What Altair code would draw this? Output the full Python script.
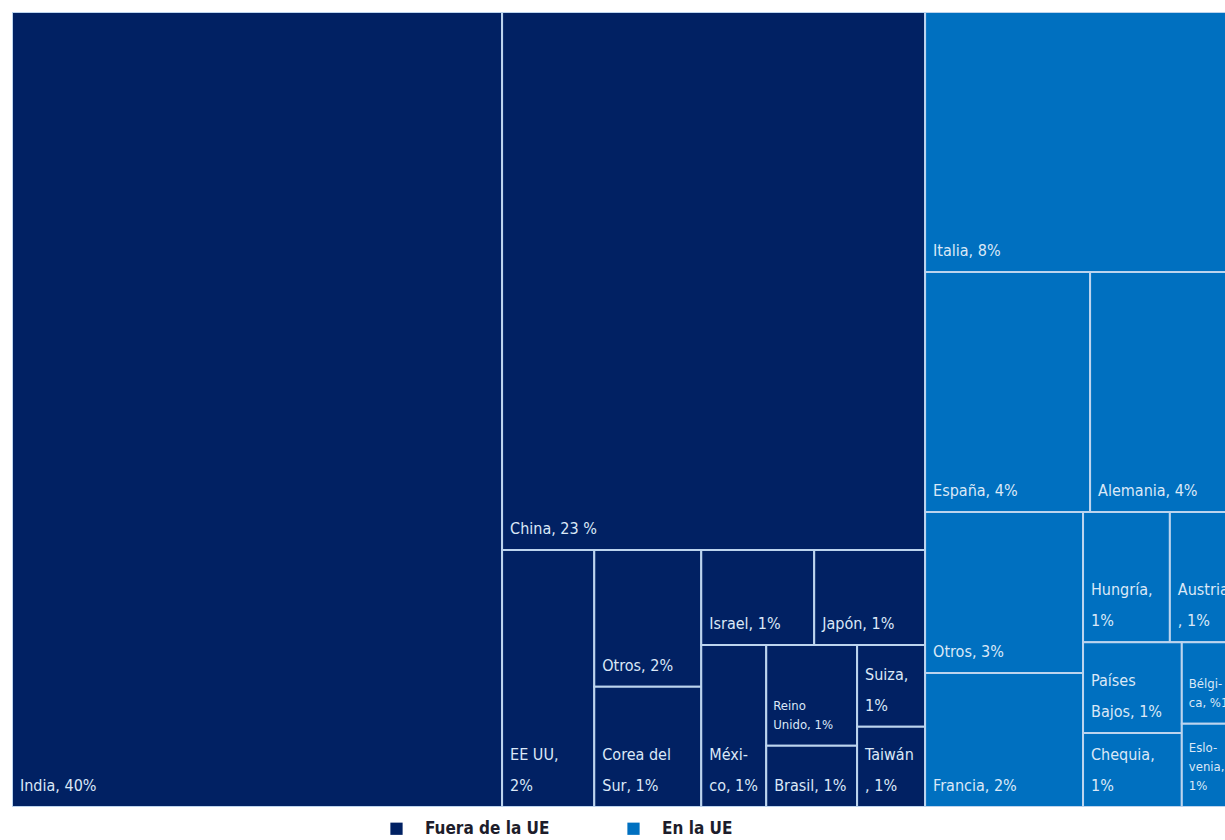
import altair as alt
import pandas as pd

# ---- data -------------------------------------------------------------
ids = ["India", "China", "EE UU", "Otros_f", "Corea", "Israel", "Japon", "Mexico",
       "Reino", "Brasil", "Suiza", "Taiwan",
       "Italia", "Espana", "Alemania", "Otros_ue", "Francia", "Hungria", "Austria",
       "PaisesBajos", "Chequia", "Belgica", "Eslovenia"]
values = [39.97, 23.35, 2.43, 1.50, 1.32, 1.10, 1.08, 1.08,
          0.94, 0.57, 0.57, 0.56,
          8.35, 4.06, 3.64, 2.61, 2.17, 1.16, 0.91,
          0.92, 0.75, 0.47, 0.48]
groups = ["Fuera de la UE"] * 12 + ["En la UE"] * 11
labels = ["India, 40%", "China, 23 %", "EE UU,\n2%", "Otros, 2%", "Corea del\nSur, 1%",
          "Israel, 1%", "Japón, 1%", "Méxi-\nco, 1%", "Reino\nUnido, 1%", "Brasil, 1%",
          "Suiza,\n1%", "Taiwán\n, 1%",
          "Italia, 8%", "España, 4%", "Alemania, 4%", "Otros, 3%", "Francia, 2%",
          "Hungría,\n1%", "Austria\n, 1%", "Países\nBajos, 1%", "Chequia,\n1%",
          "Bélgi-\nca, %1", "Eslo-\nvenia,\n1%"]
small_labels = ["Reino", "Belgica", "Eslovenia"]

# nesting of the treemap (h = side by side, v = stacked)
tree = ("h", [
    ("h", ["India",
           ("v", ["China",
                  ("h", ["EE UU",
                         ("v", ["Otros_f", "Corea"]),
                         ("v", [("h", ["Israel", "Japon"]),
                                ("h", ["Mexico",
                                       ("v", ["Reino", "Brasil"]),
                                       ("v", ["Suiza", "Taiwan"])])])])])]),
    ("v", ["Italia",
           ("h", ["Espana", "Alemania"]),
           ("h", [("v", ["Otros_ue", "Francia"]),
                  ("v", [("h", ["Hungria", "Austria"]),
                         ("h", [("v", ["PaisesBajos", "Chequia"]),
                                ("v", ["Belgica", "Eslovenia"])])])])]),
])

# ---- layout ------------------------------------------------------------
FULL_W, FULL_H = 1226.0, 795.0   # full treemap (the right edge is cropped)
VIS_W = 1213                      # visible part
val = dict(zip(ids, values))


def total(node):
    if isinstance(node, str):
        return val[node]
    return sum(total(c) for c in node[1])


def place(node, x0, y0, x1, y1, out):
    if isinstance(node, str):
        out[node] = (x0, y0, x1, y1)
        return
    d, kids = node
    t = total(node)
    pos = x0 if d == "h" else y0
    for k in kids:
        frac = total(k) / t
        if d == "h":
            w = (x1 - x0) * frac
            place(k, pos, y0, pos + w, y1, out)
            pos += w
        else:
            h = (y1 - y0) * frac
            place(k, x0, pos, x1, pos + h, out)
            pos += h


rects = {}
place(tree, 0.0, 0.0, FULL_W, FULL_H, rects)

df = pd.DataFrame({
    "id": ids, "value": values, "grupo": groups, "label": labels,
    "x0": [rects[i][0] for i in ids], "y0": [rects[i][1] for i in ids],
    "x1": [rects[i][2] for i in ids], "y1": [rects[i][3] for i in ids],
    "nlines": [lab.count("\n") + 1 for lab in labels],
})

xs = alt.Scale(domain=[0, VIS_W], nice=False, zero=False)
ys = alt.Scale(domain=[0, FULL_H], nice=False, zero=False, reverse=True)

FONT = "Liberation Sans Narrow, DejaVu Sans Condensed, DejaVu Sans, sans-serif"
LH_MAIN, LH_SMALL = 31, 19

base = alt.Chart(df)

cells = base.mark_rect(stroke="#bcd4ee", strokeWidth=2, clip=True).encode(
    x=alt.X("x0:Q", scale=xs, axis=None),
    x2="x1:Q",
    y=alt.Y("y0:Q", scale=ys, axis=None),
    y2="y1:Q",
    color=alt.Color(
        "grupo:N",
        scale=alt.Scale(domain=["Fuera de la UE", "En la UE"],
                        range=["#012163", "#0070c0"]),
        legend=alt.Legend(
            title=None, orient="none", direction="horizontal",
            legendX=376, legendY=808,
            symbolType="square", symbolSize=150, symbolStrokeWidth=0,
            labelFont=FONT, labelFontSize=17, labelFontWeight="bold",
            labelColor="#1d1d2b", labelOffset=20, columnPadding=75,
        ),
    ),
    tooltip=["label:N", "value:Q"],
)

text_main = base.transform_filter(
    ~alt.FieldOneOfPredicate(field="id", oneOf=small_labels)
).transform_calculate(
    ly=f"datum.y1 - (datum.nlines - 1) * {LH_MAIN}"
).mark_text(
    align="left", baseline="bottom", dx=8, dy=-13, font=FONT, fontSize=16,
    color="#dbe8f7", lineBreak="\n", lineHeight=LH_MAIN, clip=True,
).encode(
    x=alt.X("x0:Q", scale=xs, axis=None),
    y=alt.Y("ly:Q", scale=ys, axis=None),
    text="label:N",
)

text_small = base.transform_filter(
    alt.FieldOneOfPredicate(field="id", oneOf=small_labels)
).transform_calculate(
    ly=f"datum.y1 - (datum.nlines - 1) * {LH_SMALL}"
).mark_text(
    align="left", baseline="bottom", dx=7, dy=-14, font=FONT, fontSize=13,
    color="#dbe8f7", lineBreak="\n", lineHeight=LH_SMALL, clip=True,
).encode(
    x=alt.X("x0:Q", scale=xs, axis=None),
    y=alt.Y("ly:Q", scale=ys, axis=None),
    text="label:N",
)

chart = alt.layer(cells, text_main, text_small).properties(
    width=VIS_W, height=int(FULL_H),
    padding={"left": 12, "top": 12, "right": 0, "bottom": 33},
    autosize=alt.AutoSizeParams(type="none"),
    background="white",
).configure_view(stroke=None)

chart.save("out.html", embed_options={"renderer": "svg", "actions": False})
